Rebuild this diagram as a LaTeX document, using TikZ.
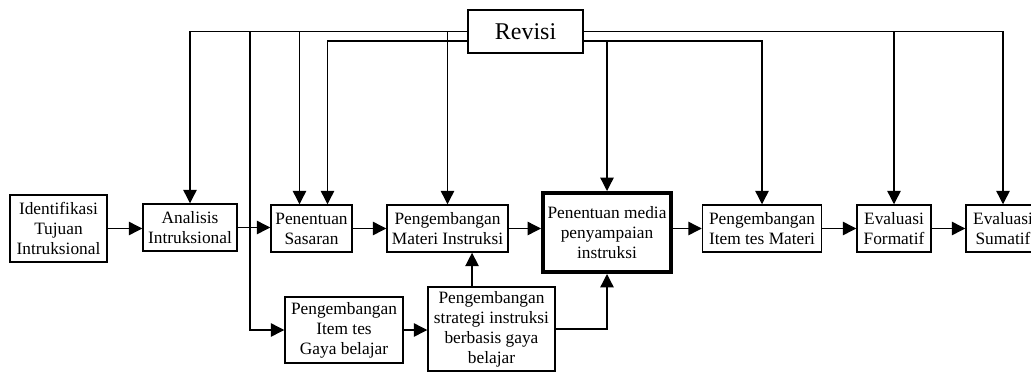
\documentclass[tikz,border=0pt]{standalone}
\usepackage{fontspec}
\setmainfont{Liberation Serif}
\usetikzlibrary{arrows.meta}

\begin{document}
\begin{tikzpicture}[x=0.75pt,y=-0.75pt,>={Triangle[length=10pt,width=10pt]},line width=1pt,
  box/.style={draw,line width=1.1pt,align=center,inner sep=0pt,font=\fontsize{13}{15}\selectfont}]
\useasboundingbox (0,0) rectangle (1031,372);
% main row
\node[box,minimum width=72.75pt,minimum height=50.25pt] (ident) at (58.5,228.5) {Identifikasi\\Tujuan\\Intruksional};
\node[box,minimum width=70.5pt,minimum height=35.25pt] (anal) at (190,227.5) {Analisis\\Intruksional};
\node[box,minimum width=60.75pt,minimum height=35.25pt] (sasar) at (311.5,228.5) {Penentuan\\Sasaran};
\node[box,minimum width=90.75pt,minimum height=35.25pt] (materi) at (447.5,228.5) {Pengembangan\\Materi Instruksi};
\node[box,line width=3pt,minimum width=96pt,minimum height=59.25pt] (media) at (607,232.5) {Penentuan media\\penyampaian\\instruksi};
\node[box,minimum width=89.25pt,minimum height=35.25pt] (itemmat) at (762,228.5) {Pengembangan\\Item tes Materi};
\node[box,minimum width=55.5pt,minimum height=35.25pt] (formatif) at (894,228.5) {Evaluasi\\Formatif};
\node[box,minimum width=55.5pt,minimum height=35.25pt] (sumatif) at (1003,228.5) {Evaluasi\\Sumatif};
% lower row
\node[box,minimum width=88.5pt,minimum height=49.5pt] (itemgaya) at (344,330) {Pengembangan\\Item tes\\Gaya belajar};
\node[box,minimum width=95.25pt,minimum height=63pt] (strategi) at (491.5,329) {Pengembangan\\strategi instruksi\\berbasis gaya\\belajar};
% revisi
\node[box,font=\fontsize{18}{20}\selectfont,minimum width=86.25pt,minimum height=32.25pt] (revisi) at (525.5,31.5) {Revisi};
\coordinate (revL) at ([yshift=-7pt]revisi.west);
\coordinate (revR) at ([yshift=-7pt]revisi.east);
\coordinate (sasarL) at ([xshift=-9pt]sasar.north);
\coordinate (sasarR) at ([xshift=12pt]sasar.north);
\coordinate (gayaturn) at (250,330);
\coordinate (stratup) at ([xshift=-14.6pt]strategi.north);

\draw[->] (ident.east) -- (ident.east -| anal.west);
\draw[->] (anal.east) -- (anal.east -| sasar.west);
\draw[->] (sasar.east) -- (sasar.east -| materi.west);
\draw[->] (materi.east) -- (materi.east -| media.west);
\draw[->] (itemmat.west -| media.east) -- (itemmat.west);
\draw[->] (itemmat.east) -- (itemmat.east -| formatif.west);
\draw[->] (formatif.east) -- (formatif.east -| sumatif.west);

\draw[->] (revisi.west) -| (anal.north);
\draw[->] (revisi.west) -| (sasarL);
\draw[->] (revL) -| (sasarR);
\draw[->] (revisi.west) -| (materi.north);
\draw[->] (revisi.west) -| (gayaturn) -- (itemgaya.west);
\draw[->] (revR) -| (media.north);
\draw[->] (revR) -| (itemmat.north);
\draw[->] (revisi.east) -| (formatif.north);
\draw[->] (revisi.east) -| (sumatif.north);

\draw[->] (itemgaya.east) -- (itemgaya.east -| strategi.west);
\draw[->] (stratup) -- (stratup |- materi.south);
\draw[->] (strategi.east) -| (media.south);
\end{tikzpicture}
\end{document}
